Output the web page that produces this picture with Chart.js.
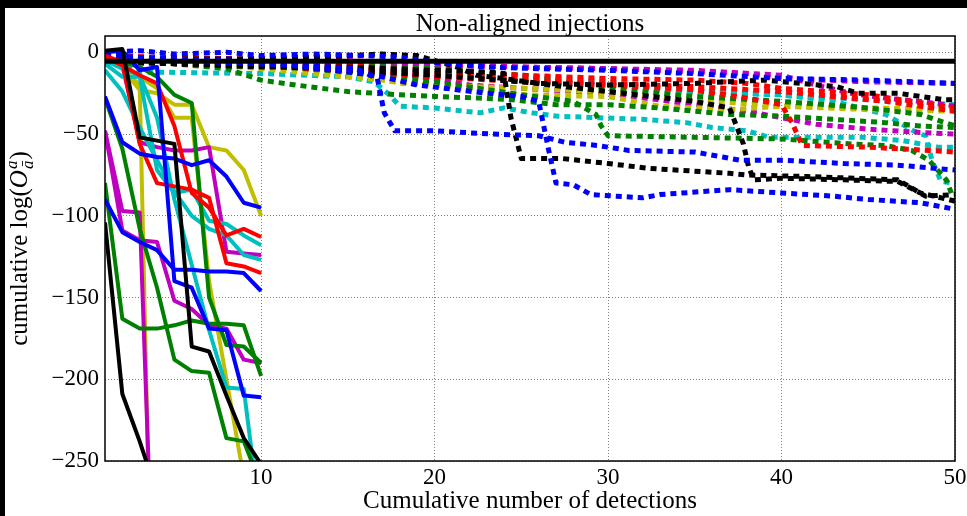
<!DOCTYPE html>
<html lang="en">
<head>
<meta charset="UTF-8">
<title>Non-aligned injections</title>
<script src="https://cdn.jsdelivr.net/npm/chart.js"></script>
<style>
  html, body { margin: 0; padding: 0; background: #fff; }
  .wrap { position: relative; width: 967px; height: 516px; }
  .edge-top { position: absolute; left: 0; top: 0; width: 967px; height: 8px; background: #000; }
  .edge-left { position: absolute; left: 0; top: 0; width: 5px; height: 516px; background: #000; }
</style>
</head>
<body>
<div class="wrap">
  <canvas id="chart" width="967" height="516"></canvas>
  <div class="edge-top"></div>
  <div class="edge-left"></div>
</div>
<script>
  // axis ticks
  const xTicks = [10, 20, 30, 40, 50];
  const yTicks = [0, -50, -100, -150, -200, -250];

  // aligned runs: value after each of the first 10 detections
  const detections = [1, 2, 3, 4, 5, 6, 7, 8, 9, 10];
  const solidBlackA = [1, 2, -52, -54, -56, -180, -183, -210, -236, -252];
  const solidBlackB = [-104, -209, -238, -270, -300];
  const solidBlueA = [0, 1, -11, -9, -140, -144, -169, -170, -210, -211];
  const solidBlueB = [-90, -110, -116, -121, -133, -133, -134, -134, -135, -146];
  const solidBlueC = [-27, -55, -62, -64, -65, -69, -66, -76, -92, -95];
  const solidRedA = [-2, -6, -56, -80, -82, -84, -89, -129, -131, -135];
  const solidRedB = [-3, -8, -14, -19, -45, -86, -95, -112, -108, -113];
  const solidGreenA = [-28, -59, -108, -144, -188, -195, -196, -236, -238, -265];
  const solidGreenB = [-80, -163, -169, -169, -167, -164, -166, -166, -167, -198];
  const solidGreenC = [-3, -6, -9, -15, -26, -31, -150, -179, -180, -190];
  const solidCyanA = [-7, -15, -15, -72, -86, -84, -103, -105, -112, -118];
  const solidCyanB = [-11, -24, -46, -66, -85, -100, -108, -112, -124, -127];
  const solidCyanC = [-5, -10, -14, -40, -90, -130, -170, -205, -206, -290];
  const solidMagentaA = [-48, -97, -98, -400];
  const solidMagentaB = [-48, -109, -115, -116, -152, -157, -167, -169, -188, -190];
  const solidMagentaC = [-3, -8, -55, -58, -60, -60, -58, -122, -123, -124];
  const solidYellowA = [-3, -10, -23, -25, -32, -32, -58, -60, -72, -100];
  const solidYellowB = [-3, -10, -20, -500];
  const solidYellowC = [-3, -8, -15, -22, -40, -40, -140, -200, -260, -320];

  // non-aligned runs: [detections, value]
  const dotBlueTop = [[1,0],[3,1],[5,-1],[8,0],[10,-2],[13,-1],[16,-2],[18,-3],[20,-6],[23,-9],[26,-10],[30,-11],[35,-13],[40,-16],[45,-17],[50,-19]];
  const dotBlueDrop17 = [[1,-3],[5,-5],[10,-7],[14,-9],[15.5,-10],[16.7,-16],[17.1,-37],[17.7,-48],[20,-48],[23.3,-50],[26,-51],[27.5,-55],[29.4,-57],[31.2,-60],[35,-61],[36.6,-64],[37.6,-66],[40.1,-66],[43.6,-68],[46.7,-69],[50,-72]];
  const dotBlueDrop27 = [[1,-2],[5,-4],[10,-6],[15,-12],[17,-15],[19,-20],[23,-25],[25,-27],[26,-30],[26.6,-61],[27,-80],[28,-81],[29,-87],[32,-89],[33,-87],[37,-84],[40,-86],[43,-88],[45,-90],[48,-92],[49,-94],[50,-96]];
  const dotBlackTop = [[1,-5],[5,-4],[10,-4],[13,-3],[15,-2],[17,-1],[19,-2],[20,-5],[21.3,-9],[22.4,-14],[24,-16],[26,-19],[30,-20],[35,-19],[39,-17],[43.2,-21],[44.4,-25],[46.7,-25],[49.4,-29],[50,-29]];
  const dotBlackDrop24 = [[1,-4],[5,-7],[10,-9],[15,-9],[20,-11],[23,-12],[24,-13],[24.4,-40],[25,-65],[27.4,-65],[30,-68],[32.4,-71],[37,-74],[38,-75],[41.5,-76],[46.7,-78],[47.5,-83],[48.3,-88],[50,-87]];
  const dotBlackDrop38 = [[1,-6],[10,-8],[20,-14],[25,-18],[30,-24],[35,-30],[37,-34],[37.4,-45],[37.8,-56],[38.1,-70],[38.4,-78],[40,-77],[43.6,-78],[46.7,-79],[48,-86],[50,-91]];
  const dotRedDrop40 = [[1,-6],[10,-8],[20,-15],[25,-18],[30,-20],[35,-23],[38,-28],[40,-32],[40.6,-43],[41.2,-57],[45,-58],[48.5,-60],[50,-61]];
  const dotRedA = [[1,-4],[10,-7],[15,-10],[20,-14],[25,-17],[30,-19],[35,-21],[40,-24],[43,-27],[46,-30],[48,-33],[50,-36]];
  const dotRedB = [[1,-2],[10,-5],[15,-8],[20,-12],[25,-14],[30,-16],[35,-17],[38,-19],[40,-22],[45,-26],[50,-34]];
  const dotGreenA = [[1,-5],[5,-7],[8,-10],[10,-17],[12,-20],[15,-24],[18,-26],[20,-27],[22.6,-28],[24.5,-29],[27,-32],[30,-32],[33,-34],[35,-36],[37,-38],[40,-39],[43,-41],[46,-43],[48,-45],[50,-46]];
  const dotGreenDrop30 = [[1,-4],[5,-6],[10,-8],[15,-12],[20,-18],[25,-26],[28,-30],[29.3,-38],[29.6,-45],[30,-51],[35,-52],[40,-53],[44,-56],[46,-57],[47.5,-60],[48.5,-66],[49.5,-78],[50,-92]];
  const dotGreenB = [[1,-3],[10,-6],[20,-10],[25,-14],[30,-22],[35,-27],[40,-30],[45,-34],[48,-38],[50,-45]];
  const dotYellowA = [[1,-3],[5,-6],[10,-10],[15,-15],[20,-20],[25,-26],[30,-27],[33,-33],[37,-35],[40,-33],[45,-34],[50,-35]];
  const dotYellowB = [[1,-4],[10,-8],[15,-12],[18,-19],[20,-20],[25,-22],[30,-24],[35,-29],[40,-33],[45,-35],[50,-36]];
  const dotMagentaTop = [[1,-3],[5,-4],[10,-5],[15,-5],[20,-7],[25,-9],[30,-10],[35,-12],[38,-13],[40,-16],[45,-18],[50,-19]];
  const dotMagentaA = [[1,-2],[10,-6],[15,-9],[20,-16],[22,-20],[25,-22],[30,-25],[35,-32],[38,-36],[40,-40],[42,-44],[45,-47],[48,-49],[50,-50]];
  const dotMagentaB = [[1,-3],[10,-4],[20,-8],[30,-10],[35,-11],[40,-14],[42,-20],[44,-25],[46,-28],[48,-30],[50,-33]];
  const dotCyanDrop17 = [[1,-5],[3,-12],[10,-13],[15,-15],[16.5,-18],[17.4,-26],[18,-33],[20,-34],[22.6,-37],[24,-34],[25.6,-37],[27,-39],[29.5,-40],[32,-41],[34.5,-43],[36,-46],[38,-48],[39.3,-52],[44.7,-52],[47,-54],[49,-58],[50,-58]];
  const dotCyanDrop48 = [[1,-4],[10,-7],[20,-13],[25,-17],[30,-20],[35,-24],[40,-26],[43,-30],[46,-38],[47.6,-48],[48.3,-51],[48.7,-67],[49.2,-79],[50,-80]];
  const dotCyanB = [[1,-3],[10,-6],[20,-12],[25,-14],[30,-18],[35,-24],[40,-26],[45,-29],[50,-32]];

  // reference level
  const referenceLevel = -5.5;
  const referenceRange = [1, 50];

  const C = {
    b: '#0000ff', g: '#008000', r: '#ff0000', c: '#00bfbf',
    m: '#bf00bf', y: '#bfbf00', k: '#000000'
  };

  const solidRuns = [
    [solidBlackA, 'k'], [solidBlackB, 'k'],
    [solidBlueA, 'b'], [solidBlueB, 'b'], [solidBlueC, 'b'],
    [solidRedA, 'r'], [solidRedB, 'r'],
    [solidGreenA, 'g'], [solidGreenB, 'g'], [solidGreenC, 'g'],
    [solidCyanA, 'c'], [solidCyanB, 'c'], [solidCyanC, 'c'],
    [solidMagentaA, 'm'], [solidMagentaB, 'm'], [solidMagentaC, 'm'],
    [solidYellowA, 'y'], [solidYellowB, 'y'], [solidYellowC, 'y']
  ];
  const dottedRuns = [
    [dotBlueTop, 'b'], [dotBlueDrop17, 'b'], [dotBlueDrop27, 'b'],
    [dotBlackTop, 'k'], [dotBlackDrop24, 'k'], [dotBlackDrop38, 'k'],
    [dotRedDrop40, 'r'], [dotRedA, 'r'], [dotRedB, 'r'],
    [dotGreenA, 'g'], [dotGreenDrop30, 'g'], [dotGreenB, 'g'],
    [dotYellowA, 'y'], [dotYellowB, 'y'],
    [dotMagentaTop, 'm'], [dotMagentaA, 'm'], [dotMagentaB, 'm'],
    [dotCyanDrop17, 'c'], [dotCyanDrop48, 'c'], [dotCyanB, 'c']
  ];

  const datasets = [];
  dottedRuns.forEach(([pts, col]) => {
    datasets.push({
      data: pts.map(([x, y]) => ({ x, y })),
      borderColor: C[col], borderWidth: 5, borderDash: [6, 5],
      borderCapStyle: 'butt', borderJoinStyle: 'round',
      pointRadius: 0, tension: 0, order: 3
    });
  });
  solidRuns.forEach(([vals, col]) => {
    datasets.push({
      data: vals.map((y, i) => ({ x: detections[i], y })),
      borderColor: C[col], borderWidth: 4, borderJoinStyle: 'round',
      pointRadius: 0, tension: 0, order: 2
    });
  });
  datasets.push({
    data: referenceRange.map(x => ({ x, y: referenceLevel })),
    borderColor: '#000', borderWidth: 5, pointRadius: 0, order: 1
  });

  const serif = '"Liberation Serif", "DejaVu Serif", serif';

  // frame, title and axis labels
  const frameAndLabels = {
    id: 'frameAndLabels',
    afterDraw(chart) {
      const { ctx, chartArea: a } = chart;
      const cx = (a.left + a.right) / 2;
      ctx.save();
      ctx.strokeStyle = '#000';
      ctx.lineWidth = 1.5;
      ctx.strokeRect(a.left, a.top, a.right - a.left, a.bottom - a.top);

      ctx.fillStyle = '#000';
      ctx.textAlign = 'left';
      ctx.textBaseline = 'alphabetic';
      ctx.font = '25px ' + serif;
      const title = 'Non-aligned injections';
      ctx.fillText(title, cx - ctx.measureText(title).width / 2, 31);
      const xLabel = 'Cumulative number of detections';
      ctx.fillText(xLabel, cx - ctx.measureText(xLabel).width / 2, 508);

      // y label: cumulative log(O^a_ā), rotated
      const parts = [
        { t: 'cumulative log(', f: '25px ' + serif },
        { t: 'O', f: 'italic 25px ' + serif },
        { t: 'a', f: 'italic 17px ' + serif, sup: true, sub: 'ā' },
        { t: ')', f: '25px ' + serif }
      ];
      let total = 0;
      parts.forEach(p => {
        ctx.font = p.f;
        p.w = ctx.measureText(p.t).width;
        if (p.sub) p.w = Math.max(p.w, ctx.measureText(p.sub).width) + 2;
        total += p.w;
      });
      ctx.translate(27, (a.top + a.bottom) / 2);
      ctx.rotate(-Math.PI / 2);
      let x = -total / 2;
      parts.forEach(p => {
        ctx.font = p.f;
        if (p.sup) {
          ctx.fillText(p.t, x + 1, -10);
          ctx.fillText(p.sub, x + 1, 6);
        } else {
          ctx.fillText(p.t, x, 0);
        }
        x += p.w;
      });
      ctx.restore();
    }
  };

  new Chart(document.getElementById('chart'), {
    type: 'line',
    data: { datasets },
    options: {
      responsive: false,
      animation: false,
      devicePixelRatio: 1,
      layout: { padding: { left: 0, top: 36, right: 12, bottom: 0 } },
      plugins: { legend: { display: false }, tooltip: { enabled: false } },
      scales: {
        x: {
          type: 'linear', min: 1, max: 50,
          afterBuildTicks: s => { s.ticks = xTicks.map(v => ({ value: v })); },
          afterFit: s => { s.height = 55; s.paddingLeft = 0; s.paddingRight = 0; },
          grid: { color: 'rgba(0,0,0,0.5)', lineWidth: 1, drawTicks: false },
          border: { display: false, dash: [1, 2] },
          ticks: { color: '#000', padding: 3, maxRotation: 0, font: { family: serif, size: 23 } }
        },
        y: {
          type: 'linear', min: -250, max: 10,
          afterBuildTicks: s => { s.ticks = yTicks.map(v => ({ value: v })); },
          afterFit: s => { s.width = 105; s.paddingTop = 0; s.paddingBottom = 0; },
          grid: { color: 'rgba(0,0,0,0.5)', lineWidth: 1, drawTicks: false },
          border: { display: false, dash: [1, 2] },
          ticks: {
            color: '#000', padding: 6, font: { family: serif, size: 23 },
            callback: v => (v < 0 ? '\u2212' + Math.abs(v) : String(v))
          }
        }
      }
    },
    plugins: [frameAndLabels]
  });
</script>
</body>
</html>
